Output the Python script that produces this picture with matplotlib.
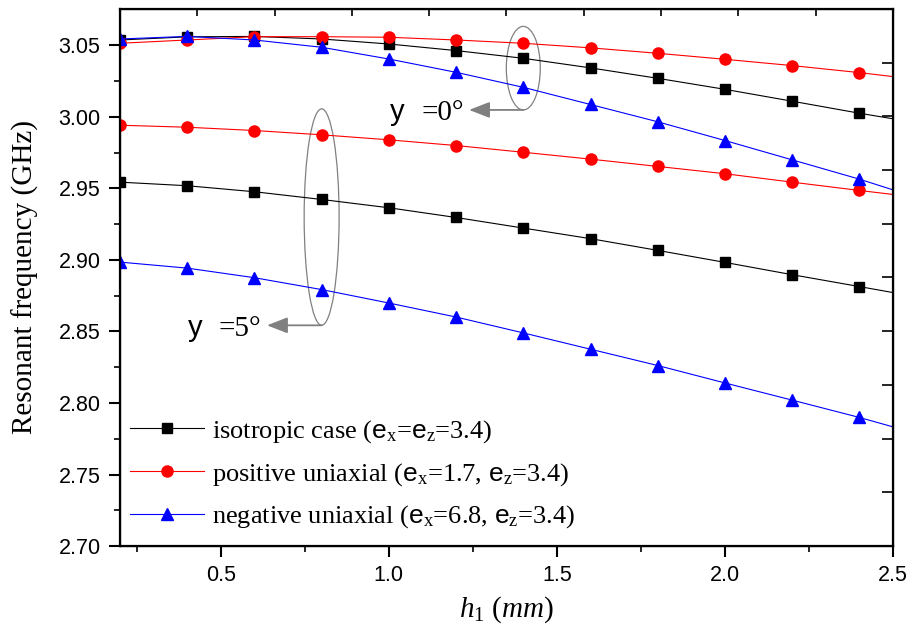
import numpy as np
import matplotlib
matplotlib.use("Agg")
import matplotlib.pyplot as plt
from matplotlib.patches import Ellipse

plt.rcParams["font.family"] = ["Liberation Serif", "DejaVu Serif"]
plt.rcParams["mathtext.fontset"] = "custom"
plt.rcParams["mathtext.rm"] = "Liberation Serif"
plt.rcParams["mathtext.it"] = "Liberation Serif:italic"
plt.rcParams["mathtext.sf"] = "Liberation Sans"

# h1 (mm); last point (2.5) only carries the line to the axis edge
h1 = [0.2, 0.4, 0.6, 0.8, 1.0, 1.2, 1.4, 1.6, 1.8, 2.0, 2.2, 2.4, 2.5]

# psi = 0 deg
iso_0 = [3.0538, 3.0560, 3.0563, 3.0545, 3.0510, 3.0464, 3.0410, 3.0343,
         3.0270, 3.0193, 3.0110, 3.0026, 2.9987]
pos_0 = [3.0515, 3.0538, 3.0561, 3.0561, 3.0557, 3.0538, 3.0515, 3.0483,
         3.0445, 3.0403, 3.0359, 3.0310, 3.0282]
neg_0 = [3.0545, 3.0563, 3.0538, 3.0487, 3.0405, 3.0312, 3.0207, 3.0087,
         2.9966, 2.9835, 2.9700, 2.9565, 2.9490]

# psi = 5 deg
iso_5 = [2.9544, 2.9519, 2.9477, 2.9423, 2.9365, 2.9297, 2.9223, 2.9149,
         2.9067, 2.8983, 2.8897, 2.8814, 2.8772]
pos_5 = [2.9942, 2.9928, 2.9905, 2.9875, 2.9840, 2.9800, 2.9753, 2.9705,
         2.9654, 2.9603, 2.9544, 2.9486, 2.9458]
neg_5 = [2.8985, 2.8943, 2.8876, 2.8793, 2.8699, 2.8601, 2.8490, 2.8376,
         2.8262, 2.8140, 2.8020, 2.7899, 2.7833]

labels = [
    r"isotropic case ($\mathsf{e}_\mathrm{x}$=$\mathsf{e}_\mathrm{z}$=3.4)",
    r"positive uniaxial ($\mathsf{e}_\mathrm{x}$=1.7, $\mathsf{e}_\mathrm{z}$=3.4)",
    r"negative uniaxial ($\mathsf{e}_\mathrm{x}$=6.8, $\mathsf{e}_\mathrm{z}$=3.4)",
]


def main():
    fig = plt.figure(figsize=(9.13, 6.39), dpi=100)
    ax = fig.add_axes([0.1314, 0.1455, 0.8467, 0.8405])

    styles = [("black", "s", 7), ("red", "o", 8), ("blue", "^", 8.5)]
    groups = [(iso_0, iso_5), (pos_0, pos_5), (neg_0, neg_5)]
    marks = slice(0, 12)
    for (c, m, ms), (y0, y5), lab in zip(styles, groups, labels):
        ax.plot(h1, y0, color=c, marker=m, ms=ms, lw=0.8, markevery=marks, label=lab)
        ax.plot(h1, y5, color=c, marker=m, ms=ms, lw=0.8, markevery=marks)

    ax.set_xlim(0.2, 2.5)
    ax.set_ylim(2.70, 3.0755)
    ax.set_xticks([0.5, 1.0, 1.5, 2.0, 2.5])
    ax.set_xticks(np.arange(0.25, 2.5, 0.25), minor=True)
    ax.set_yticks(np.arange(2.70, 3.051, 0.05))
    ax.set_yticks(np.arange(2.725, 3.06, 0.05), minor=True)
    ax.set_xticklabels(["0.5", "1.0", "1.5", "2.0", "2.5"])
    ax.set_yticklabels([f"{v:.2f}" for v in np.arange(2.70, 3.051, 0.05)])
    for t in ax.get_xticklabels() + ax.get_yticklabels():
        t.set_fontfamily("Liberation Sans")
        t.set_fontsize(15.5)
    ax.tick_params(which="major", direction="out", length=8, width=1.5, pad=6)
    ax.tick_params(which="minor", direction="out", length=4, width=1.2)
    for s in ax.spines.values():
        s.set_linewidth(1.6)

    # Origin-style top/right axes with their own ticks
    axt = ax.twiny()
    axt.set_xlim(0, 1)
    axt.set_xticks(np.arange(0.1, 1.0, 0.1))
    axt.tick_params(direction="in", length=5, width=1.2, labeltop=False)
    axr = ax.twinx()
    axr.set_ylim(0, 1)
    axr.set_yticks(np.arange(0.1, 1.0, 0.1))
    axr.tick_params(direction="in", length=8, width=1.2, labelright=False)

    ax.set_xlabel(r"$h_1\ (mm)$", fontsize=21, labelpad=6)
    ax.set_ylabel("Resonant frequency (GHz)", fontsize=21, labelpad=14)

    # annotations
    gray = "#808080"
    ax.add_patch(Ellipse((1.4, 3.0341), 0.101, 0.0584, fill=False, ec=gray, lw=0.9))
    ax.annotate("", xy=(1.2387, 3.0049), xytext=(1.4, 3.0049),
                arrowprops=dict(arrowstyle="-|>,head_length=0.9,head_width=0.35",
                                color=gray, lw=1.3, mutation_scale=14,
                                shrinkA=0, shrinkB=0))
    ax.text(1.0036, 2.9982, "y", fontsize=21, fontfamily="Liberation Sans")
    ax.text(1.096, 2.9982, "=0°", fontsize=21)

    ax.add_patch(Ellipse((0.8, 2.930), 0.104, 0.1513, fill=False, ec=gray, lw=0.9))
    ax.annotate("", xy=(0.6375, 2.8543), xytext=(0.8, 2.8543),
                arrowprops=dict(arrowstyle="-|>,head_length=0.9,head_width=0.35",
                                color=gray, lw=1.3, mutation_scale=14,
                                shrinkA=0, shrinkB=0))
    ax.text(0.402, 2.8469, "y", fontsize=21, fontfamily="Liberation Sans")
    ax.text(0.4917, 2.8469, "=5°", fontsize=21)

    ax.legend(loc="lower left", bbox_to_anchor=(-0.014, -0.01), frameon=False,
              fontsize=19, handlelength=2.8, handletextpad=0.3, labelspacing=0.6,
              borderaxespad=0.4)

    fig.savefig("out.png", dpi=100)
    plt.close(fig)


if __name__ == "__main__":
    main()
